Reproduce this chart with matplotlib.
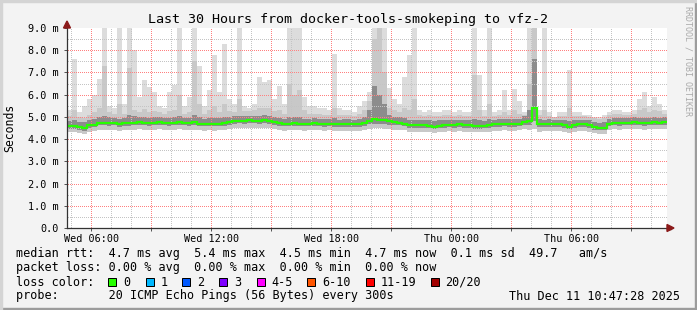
import numpy as np
import pandas as pd
import matplotlib
matplotlib.use('Agg')
import matplotlib.pyplot as plt
import matplotlib.dates as mdates
from matplotlib.collections import PolyCollection
from matplotlib.transforms import IdentityTransform
from matplotlib.patches import Rectangle, Polygon
from matplotlib.ticker import FixedLocator, FuncFormatter

# ---------------- data (ms), one sample per 15 minutes ----------------
start_time = "2025-12-10 04:47:28"

median = [4.58,4.58,4.55,4.50,4.62,4.65,4.74,4.74,4.72,4.74,
          4.68,4.72,4.72,4.74,4.76,4.74,4.72,4.74,4.76,4.74,
          4.72,4.74,4.76,4.74,4.72,4.76,4.70,4.69,4.70,4.69,
          4.70,4.72,4.76,4.82,4.83,4.82,4.84,4.83,4.82,4.84,
          4.82,4.76,4.72,4.70,4.70,4.72,4.70,4.69,4.70,4.72,
          4.70,4.68,4.70,4.68,4.66,4.68,4.68,4.66,4.68,4.72,
          4.80,4.90,4.86,4.84,4.80,4.76,4.74,4.70,4.64,4.62,
          4.62,4.64,4.60,4.56,4.60,4.64,4.65,4.64,4.66,4.64,
          4.62,4.58,4.58,4.60,4.62,4.66,4.68,4.70,4.68,4.68,
          4.70,4.78,4.80,5.40,4.66,4.66,4.68,4.66,4.67,4.64,
          4.56,4.64,4.66,4.66,4.62,4.54,4.52,4.52,4.70,4.74,
          4.72,4.74,4.74,4.76,4.74,4.72,4.74,4.76,4.74,4.76]

ping_min = [4.32,4.30,4.28,4.25,4.32,4.36,4.42,4.40,4.40,4.42,
            4.38,4.40,4.42,4.42,4.44,4.42,4.40,4.42,4.44,4.42,
            4.40,4.42,4.44,4.42,4.40,4.42,4.40,4.38,4.40,4.38,
            4.40,4.42,4.44,4.48,4.50,4.48,4.50,4.48,4.48,4.50,
            4.48,4.44,4.40,4.38,4.40,4.42,4.40,4.38,4.40,4.42,
            4.40,4.38,4.40,4.38,4.36,4.38,4.38,4.36,4.38,4.40,
            4.44,4.50,4.48,4.46,4.44,4.42,4.42,4.40,4.34,4.32,
            4.32,4.34,4.30,4.28,4.30,4.34,4.35,4.34,4.36,4.34,
            4.32,4.30,4.30,4.32,4.34,4.36,4.38,4.40,4.38,4.38,
            4.40,4.44,4.40,4.45,4.34,4.36,4.38,4.36,4.37,4.34,
            4.28,4.34,4.36,4.36,4.32,4.26,4.24,4.24,4.40,4.44,
            4.42,4.44,4.44,4.46,4.44,4.42,4.44,4.46,4.44,4.46]

ping_lo = [4.46,4.46,4.43,4.38,4.50,4.53,4.62,4.62,4.60,4.62,
           4.56,4.60,4.60,4.62,4.64,4.62,4.60,4.62,4.64,4.62,
           4.60,4.62,4.64,4.62,4.60,4.64,4.58,4.57,4.58,4.57,
           4.58,4.60,4.64,4.70,4.71,4.70,4.72,4.71,4.70,4.72,
           4.70,4.64,4.60,4.58,4.58,4.60,4.58,4.57,4.58,4.60,
           4.58,4.56,4.58,4.56,4.54,4.56,4.56,4.54,4.56,4.60,
           4.66,4.70,4.68,4.66,4.64,4.62,4.62,4.58,4.52,4.50,
           4.50,4.52,4.48,4.44,4.48,4.52,4.53,4.52,4.54,4.52,
           4.50,4.46,4.46,4.48,4.50,4.54,4.56,4.58,4.56,4.56,
           4.58,4.64,4.62,4.80,4.54,4.54,4.56,4.54,4.55,4.52,
           4.44,4.52,4.54,4.54,4.50,4.42,4.40,4.40,4.58,4.62,
           4.60,4.62,4.62,4.64,4.62,4.60,4.62,4.64,4.62,4.64]

ping_hi = [4.80,4.85,4.78,4.75,4.85,4.90,5.00,5.05,4.98,4.96,
           4.92,4.96,5.10,5.02,4.98,5.00,4.96,4.98,5.00,4.96,
           4.95,4.98,5.05,4.96,4.96,5.10,5.00,4.92,4.95,4.96,
           4.94,4.98,5.00,5.05,5.06,5.04,5.06,5.05,5.06,5.08,
           5.04,4.98,4.95,4.92,5.00,5.00,4.98,4.92,4.92,4.94,
           4.92,4.90,4.92,4.94,4.88,4.90,4.90,4.88,4.90,4.98,
           5.30,6.40,6.00,5.60,5.10,5.00,4.98,4.94,4.88,4.86,
           4.86,4.88,4.84,4.80,4.84,4.88,4.88,4.86,4.88,4.86,
           4.84,4.90,4.86,4.82,4.90,4.88,4.90,4.92,4.90,4.92,
           4.92,5.02,5.30,7.60,4.90,4.88,4.90,4.88,4.88,4.86,
           4.82,4.86,4.88,4.88,4.84,4.76,4.74,4.76,4.92,4.96,
           4.94,4.96,4.96,4.98,4.96,4.96,4.96,4.98,4.96,4.98]

ping_p90 = [5.05,5.30,5.00,4.95,5.10,5.20,5.40,7.30,5.20,5.15,
            5.60,5.15,7.20,5.30,5.20,5.35,5.20,5.25,5.20,5.15,
            5.25,5.30,6.00,5.15,5.20,7.50,5.60,5.15,5.30,5.50,
            5.20,5.60,5.25,5.20,5.80,5.25,5.25,5.30,5.40,5.40,
            5.40,5.25,5.30,5.15,6.50,6.00,6.20,5.30,5.15,5.15,
            5.15,5.10,5.10,5.40,5.10,5.10,5.10,5.05,5.15,5.30,
            5.70,8.50,9.00,7.00,5.40,5.30,5.20,5.40,5.30,5.80,
            5.10,5.05,5.10,5.05,5.05,5.10,5.10,5.05,5.10,5.05,
            5.05,6.90,5.30,5.05,5.60,5.05,5.10,5.20,5.10,5.30,
            5.15,5.10,6.50,9.00,5.10,5.30,5.05,5.00,5.05,5.05,
            5.40,5.05,5.05,5.05,5.00,4.95,4.92,4.95,5.10,5.15,
            5.15,5.10,5.10,5.15,5.30,5.40,5.20,5.30,5.25,5.15]

ping_max = [5.30,7.60,5.20,5.50,5.80,6.00,6.70,9.00,5.50,5.40,
            9.00,5.60,9.00,8.00,5.90,6.65,6.35,6.10,5.50,5.40,
            6.10,6.45,9.00,5.50,5.90,9.00,7.30,5.50,6.20,7.80,
            6.10,8.30,5.80,5.60,9.00,5.50,5.40,5.60,6.80,6.55,
            6.65,5.80,6.40,5.60,9.00,9.00,9.00,5.90,5.50,5.50,
            5.40,5.40,5.30,7.85,5.40,5.30,5.30,5.20,5.50,5.70,
            6.10,9.00,9.00,9.00,6.30,5.80,5.60,6.80,7.80,9.00,
            5.30,5.20,5.30,5.20,5.20,5.30,5.30,5.20,5.30,5.20,
            5.20,9.00,6.90,5.30,9.00,5.20,5.30,6.20,5.30,6.25,
            5.70,5.20,9.00,9.00,5.30,9.00,5.20,5.00,5.20,5.20,
            7.10,5.20,5.20,5.10,5.10,5.00,5.00,5.10,5.20,5.30,
            5.30,5.20,5.20,5.30,5.80,6.10,5.50,5.90,5.60,5.30]

y_ticks = [0, 1, 2, 3, 4, 5, 6, 7, 8, 9]
y_tick_labels = ["0.0", "1.0 m", "2.0 m", "3.0 m", "4.0 m", "5.0 m",
                 "6.0 m", "7.0 m", "8.0 m", "9.0 m"]

loss_labels = ["0", "1", "2", "3", "4-5", "6-10", "11-19", "20/20"]
loss_colors = ["#26ff00", "#00b8ff", "#0059ff", "#7e00ff", "#ff00ff",
               "#ff5500", "#ff0000", "#a10000"]

title = "Last 30 Hours from docker-tools-smokeping to vfz-2"
line_rtt = "median rtt:  4.7 ms avg  5.4 ms max  4.5 ms min  4.7 ms now  0.1 ms sd  49.7   am/s"
line_loss = "packet loss: 0.00 % avg  0.00 % max  0.00 % min  0.00 % now"
line_probe = "probe:       20 ICMP Echo Pings (56 Bytes) every 300s"
stamp = "Thu Dec 11 10:47:28 2025"

# ---------------- figure ----------------
W, H = 697, 310
X0, Y0, PW, PH = 67, 28, 600, 200      # plot area in pixels (top-left origin)
MONO = "DejaVu Sans Mono"
plt.rcParams['font.family'] = [MONO]

fig = plt.figure(figsize=(W / 100, H / 100), dpi=100)
fig.patch.set_facecolor('#f3f3f3')


def fx(px):
    return px / W


def fy(py):
    return 1 - py / H


ax = fig.add_axes([fx(X0), fy(Y0 + PH), PW / W, PH / H])
ax.set_facecolor('white')

n = len(median)
edges = pd.date_range(start_time, periods=n + 1, freq='15min')
xe = mdates.date2num(edges.to_pydatetime())


def ext(a):
    a = np.asarray(a, dtype=float)
    return np.r_[a, a[-1]]


ax.fill_between(xe, ext(ping_min), ext(ping_max), step='post',
                color='#dcdcdc', lw=0, zorder=1)
ax.fill_between(xe, ext(ping_min), ext(ping_p90), step='post',
                color='#c8c8c8', lw=0, zorder=1.1)
ax.fill_between(xe, ext(ping_lo), ext(ping_hi), step='post',
                color='#8c8c8c', lw=0, zorder=1.2)
ax.step(xe, ext(median), where='post', color=loss_colors[0], lw=1.6,
        zorder=3, solid_joinstyle='miter')

ax.set_xlim(xe[0], xe[-1])
ax.set_ylim(0, 9)

# ---- dotted grid as 1-pixel squares (display coordinates) ----
span = xe[-1] - xe[0]
squares, sq_colors = [], []
MINOR_C, MAJOR_C = '#c4c4c4', '#ff8080'


def add_px(col, row, color):
    # col/row in image pixel coordinates (top-left origin)
    yb = H - row - 1
    squares.append([(col, yb), (col + 1, yb), (col + 1, yb + 1), (col, yb + 1)])
    sq_colors.append(color)


hours = pd.date_range(edges[0].ceil('h'), edges[-1], freq='h')
for t in hours:
    c = X0 + int(round((mdates.date2num(t.to_pydatetime()) - xe[0]) / span * PW))
    if X0 < c < X0 + PW:
        colr = MAJOR_C if t.hour % 3 == 0 else MINOR_C
        for row in range(Y0 + 1, Y0 + PH, 2):
            add_px(c, row, colr)
for k in range(1, 18):
    v = k * 0.5
    r = Y0 + int(round(PH - v / 9 * PH))
    colr = MAJOR_C if k % 2 == 0 else MINOR_C
    for col in range(X0 + 1, X0 + PW, 2):
        add_px(col, r, colr)

grid = PolyCollection(squares, facecolors=sq_colors, edgecolors='none',
                      antialiased=False, transform=IdentityTransform(), zorder=2.5)
grid.set_clip_on(False)
ax.add_collection(grid, autolim=False)
ax.set_xlim(xe[0], xe[-1])
ax.set_ylim(0, 9)

# ticks
ax.xaxis.set_major_locator(mdates.HourLocator(byhour=range(0, 24, 3)))
ax.xaxis.set_minor_locator(mdates.HourLocator())


def xfmt(v, pos):
    d = mdates.num2date(v)
    if d.hour % 6 == 0:
        return d.strftime('%a %H:%M')
    return ''


ax.xaxis.set_major_formatter(FuncFormatter(xfmt))
ax.yaxis.set_major_locator(FixedLocator(y_ticks))
ax.set_yticklabels(y_tick_labels)

ax.tick_params(which='major', length=2, width=0.72, color='#555555',
               labelsize=7.3, pad=2)
ax.tick_params(which='minor', length=0)
ax.tick_params(axis='y', pad=4)

for s in ['top', 'right']:
    ax.spines[s].set_visible(False)
for s in ['left', 'bottom']:
    ax.spines[s].set_color('#333333')
    ax.spines[s].set_linewidth(0.9)
    ax.spines[s].set_zorder(4)

# axis arrows
fig.add_artist(Polygon([(fx(63.5), fy(28)), (fx(70.5), fy(28)), (fx(67), fy(21))],
                       closed=True, color='#8b1a1a', transform=fig.transFigure))
fig.add_artist(Rectangle((fx(667), fy(228.5)), 4 / W, 1 / H, color='#333333',
                         transform=fig.transFigure))
fig.add_artist(Polygon([(fx(667), fy(224.5)), (fx(667), fy(231.5)), (fx(674), fy(228))],
                       closed=True, color='#8b1a1a', transform=fig.transFigure))

# frame shading
fig.add_artist(Rectangle((0, 0), 1, 2 / H, color='#9c9c9c', transform=fig.transFigure))
fig.add_artist(Rectangle((1 - 2 / W, 0), 2 / W, 1, color='#9c9c9c', transform=fig.transFigure))
fig.add_artist(Rectangle((0, 1 - 2 / H), 1, 2 / H, color='#d4d4d4', transform=fig.transFigure))
fig.add_artist(Rectangle((0, 0), 2 / W, 1, color='#d4d4d4', transform=fig.transFigure))

# texts
fig.text(fx(348), fy(19), title, ha='center', va='center', fontsize=9.6)
fig.text(fx(10), fy(128), "Seconds", rotation=90, ha='center', va='center', fontsize=8.3)
fig.text(fx(688), fy(61), "RRDTOOL / TOBI OETIKER", rotation=270, ha='center',
         va='center', fontsize=6, color='#aaaaaa')

LS = 8.5
fig.text(fx(16), fy(254), line_rtt, ha='left', va='center', fontsize=LS)
fig.text(fx(16), fy(268), line_loss, ha='left', va='center', fontsize=LS)
fig.text(fx(16), fy(282), "loss color:", ha='left', va='center', fontsize=LS)
fig.text(fx(16), fy(296), line_probe, ha='left', va='center', fontsize=LS)
fig.text(fx(680), fy(296), stamp, ha='right', va='center', fontsize=LS)

box_x = [108, 145.5, 182, 219, 256.5, 307, 365.5, 430.5]
for bx, lab, col in zip(box_x, loss_labels, loss_colors):
    fig.add_artist(Rectangle((fx(bx), fy(286)), 8 / W, 8 / H, facecolor=col,
                             edgecolor='black', lw=0.72, transform=fig.transFigure))
    fig.text(fx(bx + 15), fy(282), lab, ha='left', va='center', fontsize=LS)

fig.savefig('out.png', dpi=100, facecolor=fig.get_facecolor())
